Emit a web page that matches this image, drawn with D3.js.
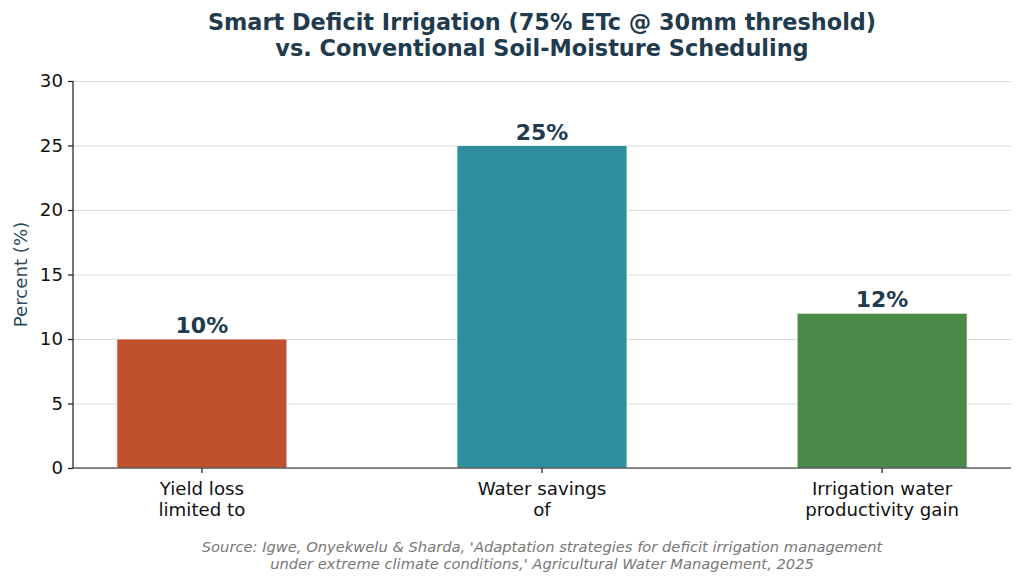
<!DOCTYPE html>
<html>
<head>
<meta charset="utf-8">
<script src="https://cdn.jsdelivr.net/npm/d3@7"></script>
<style>
  body { margin: 0; background: #fff; }
  svg, svg text { font-family: "DejaVu Sans", sans-serif; }
  .grid line { stroke: #dcdcdc; stroke-width: 1; }
  .grid path { display: none; }
  .axis text { font-size: 18.2px; fill: #111; font-family: "DejaVu Sans", sans-serif; }
  .axis path, .axis line { stroke: #1a1a1a; stroke-width: 1.2; }
</style>
</head>
<body>
<div id="chart"></div>
<script>
const categories = [["Yield loss", "limited to"], ["Water savings", "of"], ["Irrigation water", "productivity gain"]];
const values = [10, 25, 12];
const colors = ["#c0512e", "#2e8e9b", "#4a8b4a"];
const yTicks = [0, 5, 10, 15, 20, 25, 30];
const titleLines = ["Smart Deficit Irrigation (75% ETc @ 30mm threshold)", "vs. Conventional Soil-Moisture Scheduling"];
const sourceLines = ["Source: Igwe, Onyekwelu & Sharda, 'Adaptation strategies for deficit irrigation management",
                     "under extreme climate conditions,' Agricultural Water Management, 2025"];

const W = 1024, H = 585;
const margin = { top: 81, right: 13, bottom: 117, left: 73 };
const width = W - margin.left - margin.right;
const height = H - margin.top - margin.bottom;

const svg = d3.select("#chart").append("svg")
    .attr("width", W).attr("height", H);

// titre
svg.append("text")
    .attr("x", 542).attr("y", 30)
    .attr("text-anchor", "middle")
    .style("font-size", "22.4px").style("font-weight", "bold").style("fill", "#1f3b4d")
    .selectAll("tspan").data(titleLines).enter().append("tspan")
    .attr("x", 542).attr("dy", (d, i) => i ? 26 : 0)
    .text(d => d);

const g = svg.append("g")
    .attr("transform", "translate(" + margin.left + "," + margin.top + ")");

const x = d3.scaleBand()
    .domain(d3.range(categories.length))
    .range([0, width])
    .paddingInner(0.5)
    .paddingOuter(0.129);

const y = d3.scaleLinear()
    .domain([0, 30])
    .range([height, 0]);

// grille
g.append("g").attr("class", "grid")
    .call(d3.axisLeft(y).tickValues(yTicks).tickSize(-width).tickFormat(""));

// barres
g.selectAll(".bar")
    .data(values)
    .enter().append("rect")
    .attr("class", "bar")
    .attr("x", (d, i) => x(i))
    .attr("y", d => y(d))
    .attr("width", x.bandwidth())
    .attr("height", d => height - y(d))
    .attr("fill", (d, i) => colors[i])
    .attr("stroke", "#fff").attr("stroke-width", 0.8);

// étiquettes des barres
g.selectAll(".lbl")
    .data(values)
    .enter().append("text")
    .attr("x", (d, i) => x(i) + x.bandwidth() / 2)
    .attr("y", d => y(d) - 6)
    .attr("text-anchor", "middle")
    .style("font-size", "22px").style("font-weight", "bold").style("fill", "#1f3b4d")
    .text(d => d + "%");

// axes
const yAxis = g.append("g").attr("class", "axis")
    .call(d3.axisLeft(y).tickValues(yTicks).tickSize(5).tickPadding(5));
yAxis.attr("font-family", null);
yAxis.select(".domain").attr("d", "M0," + height + "V0");

const xAxis = g.append("g").attr("class", "axis")
    .attr("transform", "translate(0," + height + ")")
    .call(d3.axisBottom(x).tickSize(5).tickFormat(""));
xAxis.attr("font-family", null);
xAxis.select(".domain").attr("d", "M0,0H" + width);
xAxis.selectAll(".tick").append("text")
    .attr("text-anchor", "middle")
    .attr("fill", "#111")
    .selectAll("tspan").data(i => categories[i]).enter().append("tspan")
    .attr("x", 0).attr("y", (d, i) => 27 + i * 21)
    .text(d => d);

// titre axe y
svg.append("text")
    .attr("transform", "translate(27," + (margin.top + height / 2) + ") rotate(-90)")
    .attr("text-anchor", "middle")
    .style("font-size", "18.2px").style("fill", "#2c4a60")
    .text("Percent (%)");

// source
svg.append("text")
    .attr("text-anchor", "middle")
    .style("font-size", "14.7px").style("font-style", "italic").style("fill", "#777")
    .selectAll("tspan").data(sourceLines).enter().append("tspan")
    .attr("x", 542).attr("y", (d, i) => 552 + i * 17)
    .text(d => d);
</script>
</body>
</html>
